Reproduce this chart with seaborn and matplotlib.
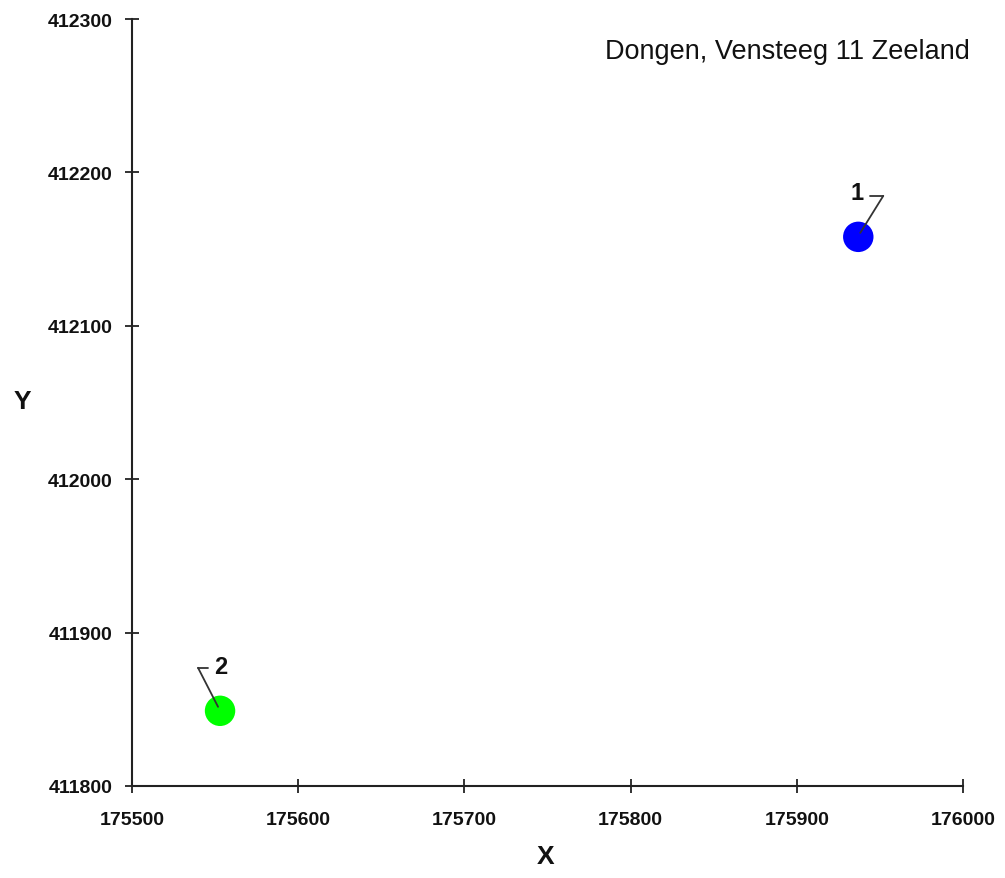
import matplotlib
matplotlib.use("Agg")
import matplotlib.pyplot as plt
import matplotlib.transforms as mtransforms
import seaborn as sns
import pandas as pd

# Data
point_labels = ["1", "2"]
x_values = [175937, 175553]
y_values = [412158, 411849]
point_colors = ["#0000FF", "#00FF00"]
x_ticks = [175500, 175600, 175700, 175800, 175900, 176000]
y_ticks = [411800, 411900, 412000, 412100, 412200, 412300]
title_text = "Dongen, Vensteeg 11 Zeeland"

sns.set_theme(style="white")
plt.rcParams["font.family"] = ["Liberation Sans", "DejaVu Sans"]

df = pd.DataFrame({"x": x_values, "y": y_values, "label": point_labels})

fig = plt.figure(figsize=(10.05, 8.79), dpi=100)
ax = fig.add_axes([0.1313, 0.1047, 0.8269, 0.8725])

sns.scatterplot(data=df, x="x", y="y", hue="label",
                palette=dict(zip(point_labels, point_colors)),
                s=480, edgecolor="none", legend=False, ax=ax, zorder=3)

ax.set_xlim(x_ticks[0], x_ticks[-1])
ax.set_ylim(y_ticks[0], y_ticks[-1])
ax.set_xticks(x_ticks)
ax.set_yticks(y_ticks)
ax.set_xticklabels([str(t) for t in x_ticks], fontsize=14, fontweight="bold", color="#111111")
ax.set_yticklabels([str(t) for t in y_ticks], fontsize=14, fontweight="bold", color="#111111")
ax.tick_params(axis="both", direction="inout", length=10, width=1.3, color="#222222",
               bottom=True, left=True)
ax.tick_params(axis="x", pad=13)
ax.tick_params(axis="y", pad=9)

for side in ["top", "right"]:
    ax.spines[side].set_visible(False)
for side in ["left", "bottom"]:
    ax.spines[side].set_color("#222222")
    ax.spines[side].set_linewidth(1.5)

ax.set_xlabel("X", fontsize=19, fontweight="bold", color="#111111")
ax.set_ylabel("Y", fontsize=19, fontweight="bold", rotation=0, color="#111111",
              va="center", ha="center")
ax.xaxis.set_label_coords((546 - 132) / 831, -(857 - 787) / 767)
ax.yaxis.label.set_va("center")
ax.yaxis.set_label_coords((22 - 132) / 831, (787 - 402) / 767)
ax.xaxis.label.set_va("center")

fig.text(970 / 1005, 1 - 52 / 879, title_text, ha="right", va="center",
         fontsize=19.5, color="#111111")

# leader lines (pixel offsets from the point)
leaders = {
    "1": ([(2, 4), (25, 41), (12, 41)], (-1, 44)),
    "2": ([(-2, 4), (-22, 43), (-12, 43)], (1, 44)),
}
inv = ax.transData.inverted()
for lab, xv, yv in zip(point_labels, x_values, y_values):
    segs, (tx, ty) = leaders[lab]
    for i in range(len(segs) - 1):
        (ox0, oy0), (ox1, oy1) = segs[i], segs[i + 1]
        t0 = mtransforms.offset_copy(ax.transData, fig=fig, x=ox0, y=oy0, units="dots")
        t1 = mtransforms.offset_copy(ax.transData, fig=fig, x=ox1, y=oy1, units="dots")
        d0 = inv.transform(t0.transform((xv, yv)))
        d1 = inv.transform(t1.transform((xv, yv)))
        ax.plot([d0[0], d1[0]], [d0[1], d1[1]], color="#333333", lw=1.3, zorder=4,
                clip_on=False)
    tt = mtransforms.offset_copy(ax.transData, fig=fig, x=tx, y=ty, units="dots")
    ax.text(xv, yv, lab, transform=tt, ha="center", va="center", fontsize=17,
            fontweight="bold", color="#111111", zorder=5)

fig.savefig("out.png", dpi=100)
